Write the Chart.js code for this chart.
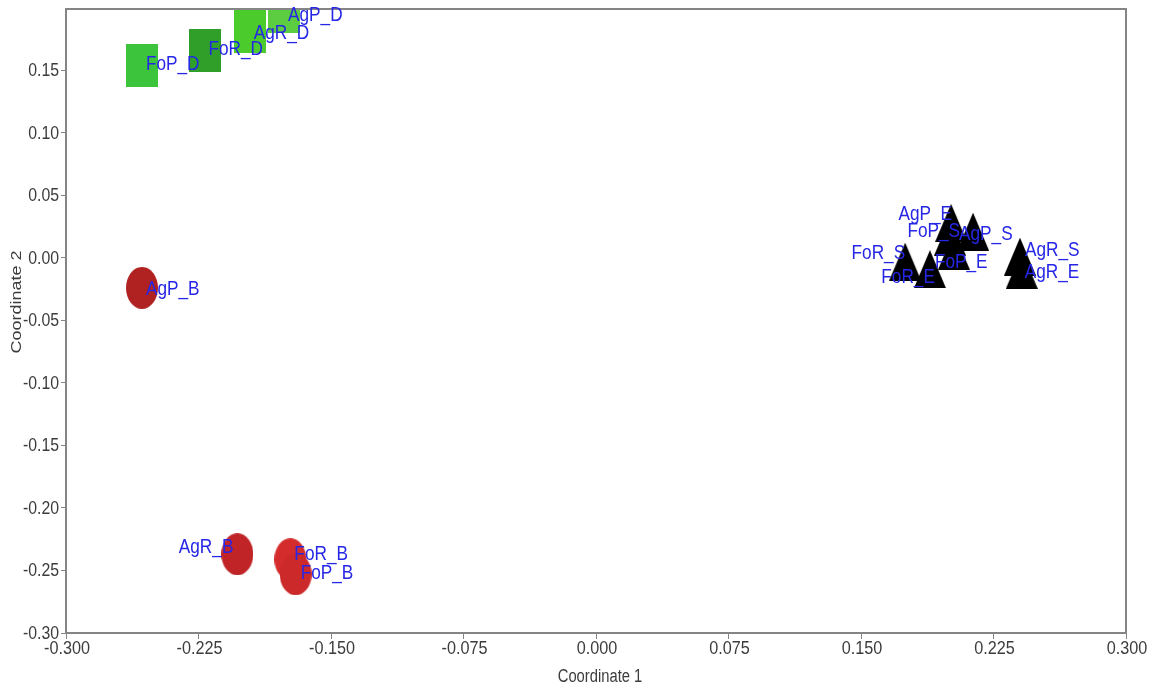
<!DOCTYPE html>
<html>
<head>
<meta charset="utf-8">
<script src="https://cdn.jsdelivr.net/npm/chart.js@4.4.1/dist/chart.umd.min.js"></script>
<style>
  html, body { margin: 0; padding: 0; background: #fff; }
  #wrap { width: 1159px; height: 689px; }
</style>
</head>
<body>
<div id="wrap"><canvas id="pcoa" width="1159" height="689"></canvas></div>
<script>
// ── Data ──
const circleNames = ["AgP_B", "AgR_B", "FoR_B", "FoP_B"];
const circleX     = [-0.257, -0.203, -0.173, -0.170];
const circleY     = [-0.024, -0.237, -0.241, -0.253];

const squareNames = ["FoP_D", "FoR_D", "AgR_D", "AgP_D"];
const squareX     = [-0.257, -0.2216, -0.196, -0.1766];
const squareY     = [0.154, 0.166, 0.181, 0.197];

const triNames = ["AgP_E", "AgP_S", "FoP_S", "FoP_E", "FoR_S", "FoR_E", "AgR_S", "AgR_E"];
const triX     = [0.201, 0.2134, 0.2004, 0.2026, 0.175, 0.189, 0.240, 0.241];
const triY     = [0.028, 0.021, 0.017, 0.0056, -0.003, -0.009, 0.001, -0.0096];

const xTicks = [-0.300, -0.225, -0.150, -0.075, 0.000, 0.075, 0.150, 0.225, 0.300];
const yTicks = [-0.30, -0.25, -0.20, -0.15, -0.10, -0.05, 0.00, 0.05, 0.10, 0.15];

// ── Styles ──
const circleColors = ["#b02222", "#c02426", "#d42c2c", "#cc2a2a"];
const squareColors = ["#3cc43c", "#2f9f2a", "#4ccc2c", "#5ccc40"];
const FONT   = "'Liberation Sans', Arial, sans-serif";
const AXIS   = "#858585";
const SQUEEZE = 0.82;   // text in the source is narrow/tall

// label placement relative to marker: [dx, dy, align]
const labelPlace = {
  FoP_D: [4, -1, "left"],  FoR_D: [4, -1, "left"],  AgR_D: [4, 2, "left"],  AgP_D: [4, 4, "left"],
  AgP_B: [4, 1, "left"],   AgR_B: [-4, -7, "right"], FoR_B: [4, -5, "left"], FoP_B: [5, -1, "left"],
  AgP_E: [1, -9, "right"], FoP_S: [10, -5, "right"], AgP_S: [-14, 3, "left"], FoP_E: [-19, 11, "left"],
  FoR_S: [0, -8, "right"], FoR_E: [5, 8, "right"],  AgR_S: [5, -6, "left"],  AgR_E: [3, 2, "left"]
};

function marker(shape, color) {
  const c = document.createElement("canvas");
  const w = 32, h = shape === "triangle" ? 38 : (shape === "square" ? 43 : 42);
  c.width = w; c.height = h;
  const g = c.getContext("2d");
  g.fillStyle = color;
  g.beginPath();
  if (shape === "circle") g.ellipse(w / 2, h / 2, w / 2, h / 2, 0, 0, Math.PI * 2);
  else if (shape === "square") g.rect(0, 0, w, h);
  else { g.moveTo(w / 2, 0); g.lineTo(w, h); g.lineTo(0, h); g.closePath(); }
  g.fill();
  return c;
}

const pts = (xs, ys, names) => xs.map((x, i) => ({ x, y: ys[i], name: names[i] }));

// narrow text: scale x only
function narrowText(ctx, str, x, y, align, sq = SQUEEZE) {
  ctx.save();
  ctx.textAlign = align;
  ctx.scale(sq, 1);
  ctx.fillText(str, x / sq, y);
  ctx.restore();
}

const frameAndLabels = {
  id: "frameAndLabels",
  afterDatasetsDraw(chart) {
    const { ctx, chartArea: a, scales } = chart;
    ctx.save();
    // top + right frame
    ctx.strokeStyle = AXIS;
    ctx.lineWidth = 2;
    ctx.beginPath();
    ctx.moveTo(a.left, a.top); ctx.lineTo(a.right, a.top); ctx.lineTo(a.right, a.bottom);
    ctx.stroke();

    // point labels
    ctx.font = "21px " + FONT;
    ctx.fillStyle = "#2626e6";
    ctx.textBaseline = "middle";
    chart.data.datasets.forEach((ds, di) => {
      chart.getDatasetMeta(di).data.forEach((el, i) => {
        const name = ds.data[i].name;
        const [dx, dy, align] = labelPlace[name] || [4, 0, "left"];
        narrowText(ctx, name, el.x + dx, el.y + dy, align);
      });
    });

    // tick labels
    ctx.font = "18px " + FONT;
    ctx.fillStyle = "#3c3c3c";
    xTicks.forEach(v => narrowText(ctx, v.toFixed(3), scales.x.getPixelForValue(v) + 1, 649, "center", 0.9));
    yTicks.forEach(v => narrowText(ctx, v.toFixed(2), 59, scales.y.getPixelForValue(v) + 1, "right", 0.88));

    // axis titles
    narrowText(ctx, "Coordinate 1", (a.left + a.right) / 2 + 4, 677, "center");
    ctx.translate(17, 302);
    ctx.rotate(-Math.PI / 2);
    ctx.textAlign = "center";
    ctx.scale(1, SQUEEZE);
    ctx.fillText("Coordinate 2", 0, 0);
    ctx.restore();
  }
};

new Chart(document.getElementById("pcoa"), {
  type: "scatter",
  data: {
    datasets: [
      {
        data: pts(squareX, squareY, squareNames),
        pointStyle: squareColors.map(c => marker("square", c)),
        clip: 0
      },
      {
        data: pts(circleX, circleY, circleNames),
        pointStyle: circleColors.map(c => marker("circle", c)),
        clip: 0
      },
      {
        data: pts(triX, triY, triNames),
        pointStyle: marker("triangle", "#000"),
        clip: 0
      }
    ]
  },
  options: {
    responsive: false,
    animation: false,
    events: [],
    layout: { padding: { top: 9, right: 33, left: 0, bottom: 0 } },
    plugins: { legend: { display: false }, tooltip: { enabled: false } },
    scales: {
      x: {
        type: "linear",
        min: -0.3, max: 0.3,
        afterBuildTicks: s => { s.ticks = xTicks.map(v => ({ value: v })); },
        afterFit: s => { s.height = 56; },
        grid: { drawOnChartArea: false, tickLength: 6, color: AXIS, lineWidth: 1 },
        border: { color: AXIS, width: 2 },
        ticks: { display: false }
      },
      y: {
        type: "linear",
        min: -0.3, max: 0.199,
        afterBuildTicks: s => { s.ticks = yTicks.map(v => ({ value: v })); },
        afterFit: s => { s.width = 66; },
        grid: { drawOnChartArea: false, tickLength: 5, color: AXIS, lineWidth: 1 },
        border: { color: AXIS, width: 2 },
        ticks: { display: false }
      }
    }
  },
  plugins: [frameAndLabels]
});
</script>
</body>
</html>
